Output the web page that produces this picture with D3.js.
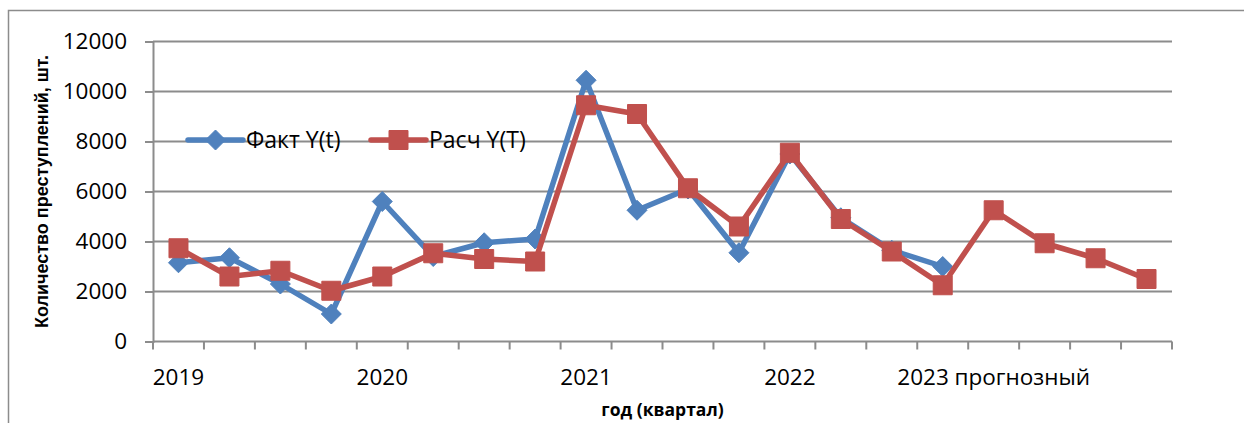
<!DOCTYPE html>
<html>
<head>
<meta charset="utf-8">
<script src="https://cdn.jsdelivr.net/npm/d3@7"></script>
<style>
  body { margin: 0; background: #fff; }
  svg { display: block; font-family: "Open Sans", sans-serif; }
</style>
</head>
<body>
<div id="chart"></div>
<script>
// quarters 2019 Q1 .. 2023 Q4 (2023 is the forecast year)
const quarters = d3.range(20).map((i) => `${2019 + Math.floor(i / 4)}-Q${(i % 4) + 1}`);
const yearLabels = ["2019", "2020", "2021", "2022", "2023 прогнозный"];
const yTicks = [0, 2000, 4000, 6000, 8000, 10000, 12000];

const factValues = [3150, 3350, 2300, 1100, 5600, 3400, 3950, 4100,
  10450, 5250, 6100, 3550, 7500, 4950, 3650, 3000];
const calcValues = [3730, 2600, 2830, 2030, 2600, 3530, 3300, 3200,
  9450, 9100, 6130, 4600, 7550, 4900, 3600, 2250, 5250, 3930, 3330, 2500];

const series = [
  { name: "Факт Y(t)", values: factValues, color: "#4F81BD", marker: "diamond" },
  { name: "Расч Y(T)", values: calcValues, color: "#C0504D", marker: "square" },
];

const width = 1244, height = 423;
const margin = { top: 41.5, right: 72, bottom: 81.5, left: 153 };
const innerWidth = width - margin.left - margin.right;
const innerHeight = height - margin.top - margin.bottom;

const svg = d3.select("#chart").append("svg")
  .attr("width", width)
  .attr("height", height);

// chart area frame (only top and left edges are visible in the picture)
svg.append("path")
  .attr("d", `M8.5,${height} V10.5 H${width}`)
  .attr("fill", "none")
  .attr("stroke", "#8c8c8c")
  .attr("stroke-width", 1.5);

const g = svg.append("g").attr("transform", `translate(${margin.left},${margin.top})`);

const x = d3.scaleBand().domain(quarters).range([0, innerWidth]);
const y = d3.scaleLinear().domain([0, 12000]).range([innerHeight, 0]);

// gridlines
g.append("g").selectAll("line")
  .data(yTicks.filter((d) => d > 0))
  .join("line")
  .attr("x1", 0).attr("x2", innerWidth)
  .attr("y1", (d) => y(d)).attr("y2", (d) => y(d))
  .attr("stroke", "#8c8c8c").attr("stroke-width", 2);

// y axis
const yAxis = g.append("g")
  .call(d3.axisLeft(y).tickValues(yTicks).tickSize(8).tickPadding(18).tickFormat(d3.format("d")));
yAxis.select(".domain").attr("stroke", "#8c8c8c").attr("stroke-width", 2);
yAxis.selectAll(".tick line").attr("stroke", "#8c8c8c").attr("stroke-width", 2);
yAxis.selectAll("text").attr("font-size", "22.5px").attr("fill", "#000")
  .attr("font-family", "'Open Sans', sans-serif");

// x axis: tick marks at category boundaries
const xAxisG = g.append("g").attr("transform", `translate(0,${innerHeight})`);
xAxisG.append("line")
  .attr("x1", 0).attr("x2", innerWidth)
  .attr("stroke", "#8c8c8c").attr("stroke-width", 2);
xAxisG.selectAll("line.tick")
  .data(d3.range(quarters.length + 1))
  .join("line")
  .attr("class", "tick")
  .attr("x1", (i) => i * x.step()).attr("x2", (i) => i * x.step())
  .attr("y1", 0).attr("y2", 8)
  .attr("stroke", "#8c8c8c").attr("stroke-width", 2);
xAxisG.selectAll("text.year")
  .data(yearLabels)
  .join("text")
  .attr("class", "year")
  .attr("x", (d, i) => x(quarters[i * 4]) + x.bandwidth() / 2)
  .attr("y", 43)
  .attr("text-anchor", "middle")
  .attr("font-size", "22.5px")
  .text((d) => d);

// axis titles
svg.append("text")
  .attr("transform", `translate(48,${margin.top + innerHeight / 2}) rotate(-90)`)
  .attr("text-anchor", "middle")
  .attr("font-family", "'Liberation Sans', Arial, sans-serif")
  .attr("font-size", "18px")
  .attr("font-weight", "bold")
  .text("Количество преступлений, шт.");

svg.append("text")
  .attr("x", margin.left + innerWidth / 2)
  .attr("y", 416)
  .attr("text-anchor", "middle")
  .attr("font-size", "17.5px")
  .attr("font-weight", "bold")
  .text("год (квартал)");

const line = d3.line()
  .x((d, i) => x(quarters[i]) + x.bandwidth() / 2)
  .y((d) => y(d));

const diamond = (s) => `M0,${-s}L${s},0L0,${s}L${-s},0Z`;
const square = (s) => `M${-s},${-s}H${s}V${s}H${-s}Z`;

function drawMarker(sel, marker, color) {
  sel.append("path")
    .attr("d", marker === "diamond" ? diamond(10) : square(9.5))
    .attr("fill", color)
    .attr("stroke", color)
    .attr("stroke-width", 1);
}

series.forEach((s) => {
  const sg = g.append("g");
  sg.append("path")
    .datum(s.values)
    .attr("d", line)
    .attr("fill", "none")
    .attr("stroke", s.color)
    .attr("stroke-width", 5.5)
    .attr("stroke-linejoin", "round")
    .attr("stroke-linecap", "round");
  sg.selectAll("g.pt")
    .data(s.values)
    .join("g")
    .attr("class", "pt")
    .attr("transform", (d, i) => `translate(${x(quarters[i]) + x.bandwidth() / 2},${y(d)})`)
    .each(function () { drawMarker(d3.select(this), s.marker, s.color); });
});

// legend inside plot area
const legend = svg.append("g").attr("transform", "translate(188,140)");
const legendX = [0, 183];
series.forEach((s, i) => {
  const lg = legend.append("g").attr("transform", `translate(${legendX[i]},0)`);
  lg.append("line")
    .attr("x1", 0).attr("x2", 55)
    .attr("stroke", s.color).attr("stroke-width", 5.5).attr("stroke-linecap", "round");
  const m = lg.append("g").attr("transform", "translate(27.5,0)");
  drawMarker(m, s.marker, s.color);
  lg.append("text")
    .attr("x", 58).attr("y", 8)
    .attr("font-size", "23px")
    .text(s.name);
});
</script>
</body>
</html>
